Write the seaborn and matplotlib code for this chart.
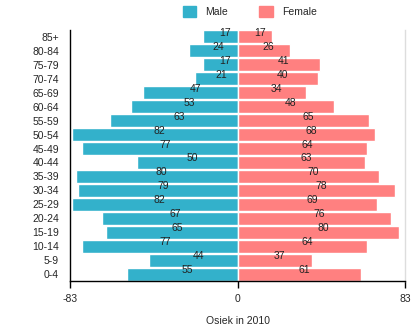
import matplotlib
matplotlib.use("Agg")
import matplotlib.pyplot as plt
import seaborn as sns
import pandas as pd

ages = ["85+", "80-84", "75-79", "70-74", "65-69", "60-64", "55-59", "50-54", "45-49",
        "40-44", "35-39", "30-34", "25-29", "20-24", "15-19", "10-14", "5-9", "0-4"]
male = [17, 24, 17, 21, 47, 53, 63, 82, 77, 50, 80, 79, 82, 67, 65, 77, 44, 55]
female = [17, 26, 41, 40, 34, 48, 65, 68, 64, 63, 70, 78, 69, 76, 80, 64, 37, 61]
xticks = [-83, 0, 83]
xtick_labels = ["-83", "0", "83"]
title = "Osiek in 2010"

sns.set_theme(style="white")
plt.rcParams["font.family"] = ["Liberation Sans", "DejaVu Sans"]

df = pd.DataFrame({
    "age": ages * 2,
    "sex": ["Male"] * len(ages) + ["Female"] * len(ages),
    "value": [-m for m in male] + female,
})

fig = plt.figure(figsize=(4.2, 3.31), dpi=100)
ax = fig.add_axes([70 / 420, 1 - 281 / 331, 335 / 420, 251 / 331])

palette = {"Male": "#33b1cb", "Female": "#ff8080"}
sns.barplot(data=df, x="value", y="age", hue="sex", order=ages, dodge=False,
            palette=palette, width=0.93, ax=ax, legend=False, saturation=1)

for i, (m, f) in enumerate(zip(male, female)):
    ax.annotate(str(m), (-m / 2, i), xytext=(5, 4), textcoords="offset pixels",
                ha="center", va="center", fontsize=7.5, color="#222222")
    ax.annotate(str(f), (f / 2, i), xytext=(5, 4), textcoords="offset pixels",
                ha="center", va="center", fontsize=7.5, color="#222222")

ax.set_xlim(-83, 83)
ax.set_ylim(len(ages) - 0.5, -0.5)
ax.set_xticks(xticks)
ax.set_xticklabels(xtick_labels, fontsize=7.5)
ax.tick_params(axis="y", labelsize=7.5, length=0, pad=8)
ax.tick_params(axis="x", length=5, width=1, color="black", pad=4, bottom=True)
ax.set_ylabel("")
ax.set_xlabel(title, fontsize=7.5, labelpad=9)

ax.spines["top"].set_visible(False)
ax.spines["right"].set_color("#dddddd")
ax.spines["left"].set_color("black")
ax.spines["bottom"].set_color("black")
for s in ["left", "bottom", "right"]:
    ax.spines[s].set_linewidth(1)

from matplotlib.patches import Patch
handles = [Patch(color=palette["Male"], label="Male"),
           Patch(color=palette["Female"], label="Female")]
fig.legend(handles=handles, loc="upper center", bbox_to_anchor=(0.595, 1.01), ncol=2,
           frameon=False, fontsize=7.5, handlelength=1.3, handleheight=1.3,
           handletextpad=0.9, columnspacing=3.0)

fig.savefig("out.png", dpi=100)
